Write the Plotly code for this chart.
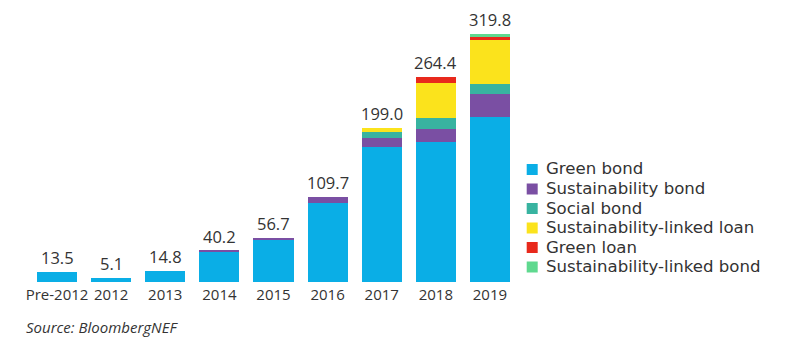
import plotly.graph_objects as go

categories = ["Pre-2012", "2012", "2013", "2014", "2015", "2016", "2017", "2018", "2019"]
green_bond = [13.5, 5.1, 14.8, 39.4, 54.2, 102.4, 174.5, 181.0, 212.0]
sustainability_bond = [0, 0, 0, 0.8, 2.5, 7.3, 10.5, 15.8, 30.0]
social_bond = [0, 0, 0, 0, 0, 0, 8.5, 15.0, 12.8]
sustainability_linked_loan = [0, 0, 0, 0, 0, 0, 5.5, 45.0, 57.4]
green_loan = [0, 0, 0, 0, 0, 0, 0, 7.6, 3.4]
sustainability_linked_bond = [0, 0, 0, 0, 0, 0, 0, 0, 4.2]
totals = [13.5, 5.1, 14.8, 40.2, 56.7, 109.7, 199.0, 264.4, 319.8]

series = [
    ("Green bond", green_bond, "#0aaee6"),
    ("Sustainability bond", sustainability_bond, "#7a4fa3"),
    ("Social bond", social_bond, "#38b3a0"),
    ("Sustainability-linked loan", sustainability_linked_loan, "#fbe31c"),
    ("Green loan", green_loan, "#e8291c"),
    ("Sustainability-linked bond", sustainability_linked_bond, "#5fd98f"),
]

FONT = "Open Sans"
LEG_FONT = "DejaVu Sans"
TXT = "#333333"

# layout geometry (pixels)
W, H = 790, 340
ML, MR, MT, MB = 30, 273, 20, 58
PW, PH = W - ML - MR, H - MT - MB

def px_x(x):
    return (x - ML) / PW

def px_y(y):
    return (H - MB - y) / PH

fig = go.Figure()
for name, vals, color in series:
    fig.add_trace(go.Bar(x=categories, y=vals, name=name, showlegend=False,
                         marker=dict(color=color, line=dict(width=0))))

for i, t in enumerate(totals):
    fig.add_annotation(x=i, y=t, text=f"{t:.1f}", showarrow=False,
                       yanchor="middle", yshift=14.5,
                       font=dict(family=FONT, size=16.5, color=TXT))

# legend (built from the series list)
LEG_Y0, LEG_DY = 169.5, 19.5
for i, (name, vals, color) in enumerate(series):
    yc = LEG_Y0 + LEG_DY * i
    fig.add_shape(type="rect", xref="paper", yref="paper",
                  x0=px_x(526.7), x1=px_x(537.7),
                  y0=px_y(yc + 5.5), y1=px_y(yc - 5.5),
                  fillcolor=color, line=dict(width=0))
    fig.add_annotation(xref="paper", yref="paper", x=px_x(544.5), y=px_y(yc - 1),
                       xanchor="left", yanchor="middle", text=name, showarrow=False,
                       height=18, borderpad=0, valign="middle",
                       font=dict(family=LEG_FONT, size=16.6, color=TXT))

fig.add_annotation(xref="paper", yref="paper", x=px_x(25), y=px_y(327),
                   xanchor="left", yanchor="middle", borderpad=0,
                   text="<i>Source: BloombergNEF</i>", showarrow=False,
                   font=dict(family=FONT, size=15, color=TXT))

fig.update_layout(
    width=W, height=H,
    margin=dict(l=ML, r=MR, t=MT, b=MB),
    barmode="stack", bargap=0.26,
    plot_bgcolor="white", paper_bgcolor="white",
    font=dict(family=FONT, color=TXT),
    showlegend=False,
    xaxis=dict(type="category", range=[-0.5, 8.5], showgrid=False, showline=False,
               ticks="", ticklabelstandoff=2,
               tickfont=dict(family=FONT, size=15, color=TXT)),
    yaxis=dict(range=[0, 337.6], visible=False, showgrid=False),
)

fig.write_html("out.html")
